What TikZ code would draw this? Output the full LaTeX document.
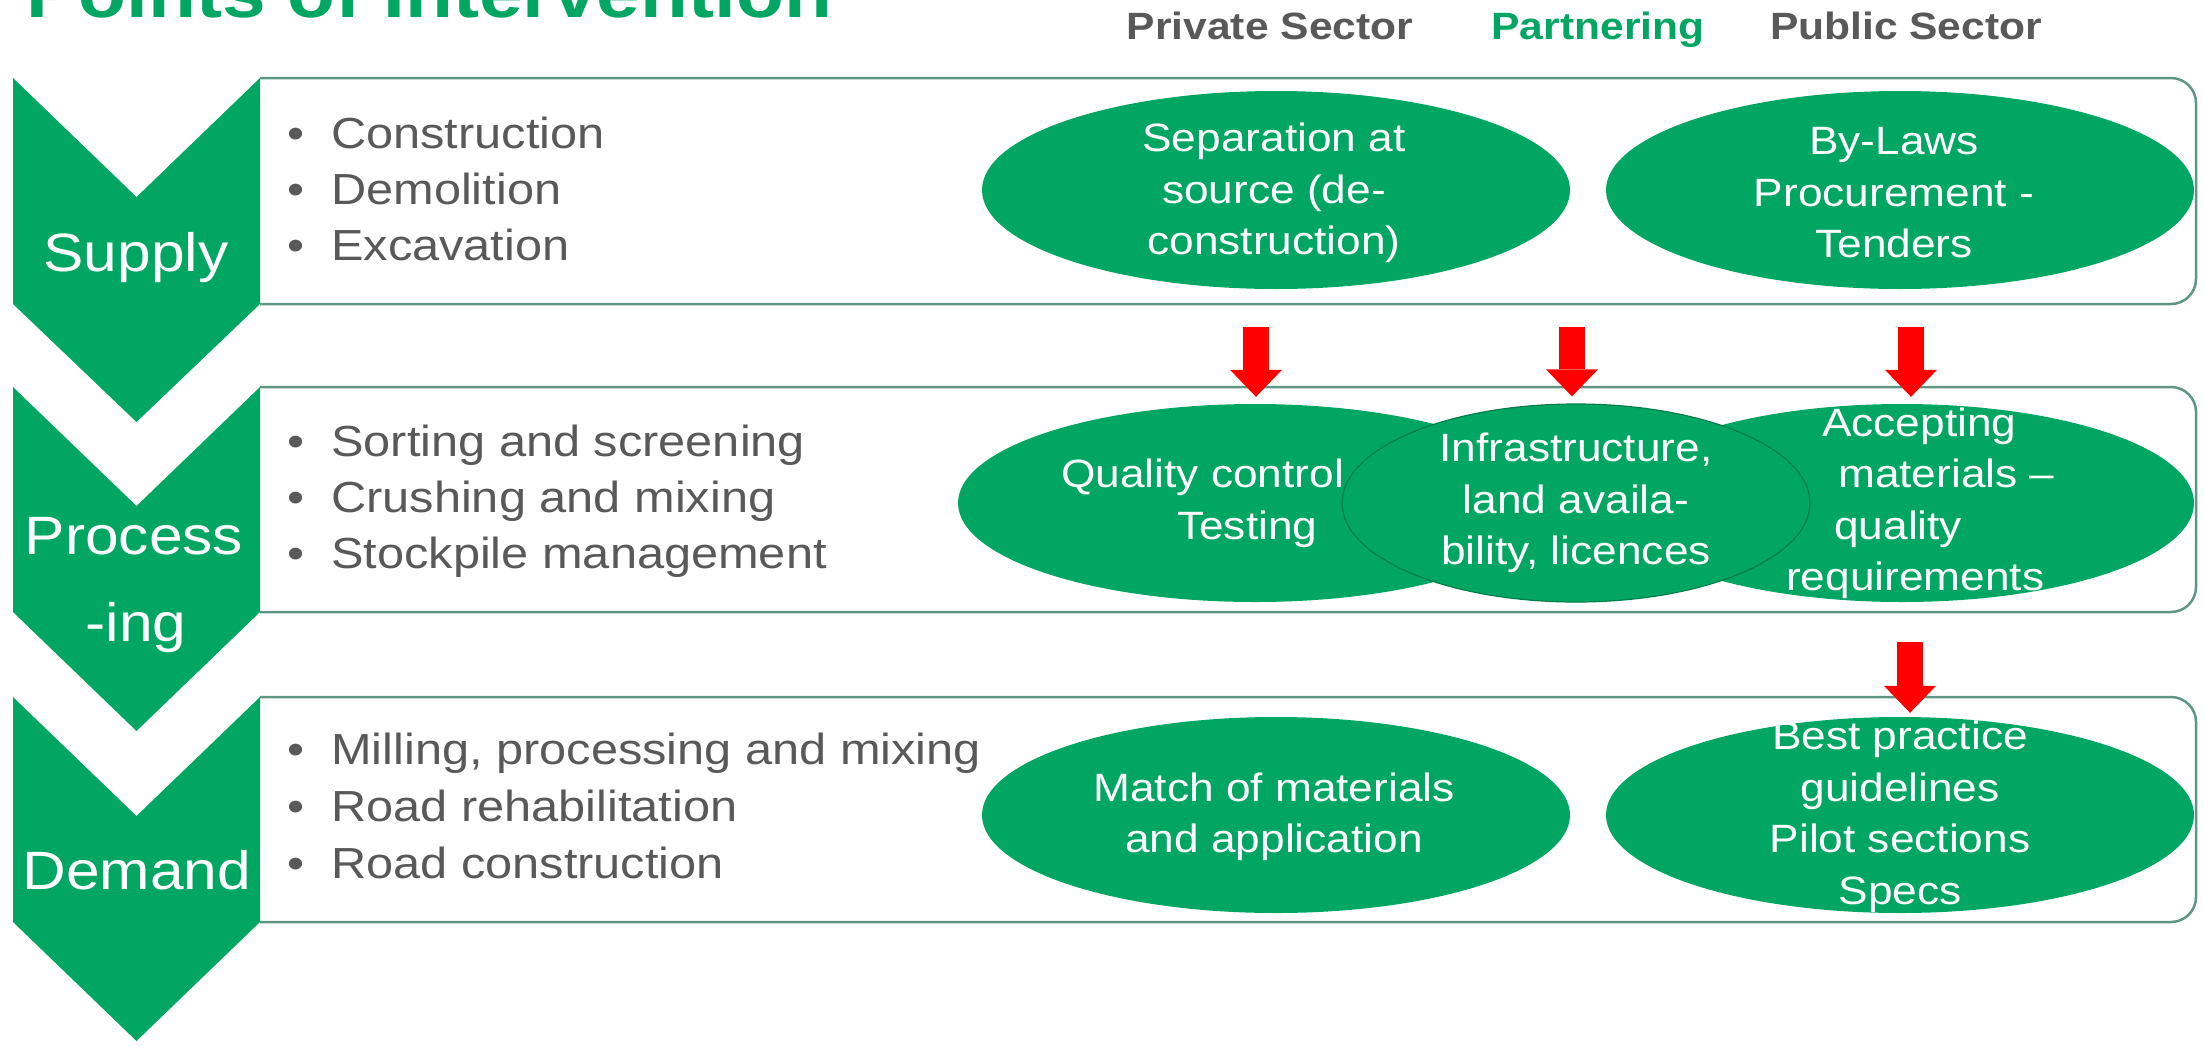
\documentclass[tikz,border=0pt]{standalone}
\usepackage{fontspec}
\setmainfont{Liberation Sans}[FakeStretch=1.12]
\usetikzlibrary{arrows.meta,shapes.geometric}
\definecolor{leaf}{RGB}{0,166,98}
\definecolor{ink}{RGB}{89,89,89}
\definecolor{rim}{RGB}{95,150,130}
\definecolor{arrowred}{RGB}{255,0,0}
\tikzset{
  band/.style={draw=rim, line width=2.5pt, rounded corners=25pt},
  chev/.style={fill=leaf},
  oval/.style={ellipse, fill=leaf, inner sep=0pt},
  ovaltext/.style={text=white, inner sep=0pt, font=\fontsize{39.5}{51.5}\selectfont},
  item/.style={anchor=base west, inner sep=0pt, text=ink, font=\fontsize{43.5}{56}\selectfont},
  stage/.style={anchor=base, inner sep=0pt, text=white, font=\fontsize{54}{65}\selectfont},
  colhead/.style={anchor=base, inner sep=0pt, font=\bfseries\fontsize{38}{45}\selectfont},
  push/.style={draw=arrowred, line width=26pt, -{Triangle[width=52pt,length=27pt,line width=0pt]}}
}
\begin{document}
\begin{tikzpicture}[x=1pt,y=-1pt]
\useasboundingbox (0,0) rectangle (2204,1045);
\clip (0,0) rectangle (2204,1045);

% title and column headings
\node[anchor=base west, inner sep=0pt, text=leaf, font=\bfseries\fontsize{70}{80}\selectfont] (title) at (26,17) {Points of Intervention};
\node[colhead, text=ink]  (hpriv) at (1270,39) {Private Sector};
\node[colhead, text=leaf] (hpart) at (1598,39) {Partnering};
\node[colhead, text=ink]  (hpub)  at (1906,39) {Public Sector};

% row frames
\draw[band] (260,78)  -- (2196,78)  -- (2196,304) -- (260,304);
\draw[band] (260,387) -- (2196,387) -- (2196,612) -- (260,612);
\draw[band] (260,697) -- (2196,697) -- (2196,922) -- (260,922);

% chevrons
\fill[chev] (13,78)  -- (136.5,197) -- (260,78)  -- (260,304) -- (136.5,422)  -- (13,304) -- cycle;
\fill[chev] (13,387) -- (136.5,506) -- (260,387) -- (260,612) -- (136.5,731)  -- (13,612) -- cycle;
\fill[chev] (13,697) -- (136.5,816) -- (260,697) -- (260,922) -- (136.5,1041) -- (13,922) -- cycle;

\node[stage] (supply) at (136,271) {Supply};
\node[stage] (procA)  at (134,554) {Process};
\node[stage] (procB)  at (136,641) {-ing};
\node[stage] (demand) at (137,889) {Demand};

% bullet lists
\foreach \t [count=\i] in {Construction,Demolition,Excavation}
  \node[item] (sup\i) at (287,{92+56*\i}) {\makebox[44pt][l]{•}\t};
\foreach \t [count=\i] in {Sorting and screening,Crushing and mixing,Stockpile management}
  \node[item] (pro\i) at (287,{400+56*\i}) {\makebox[44pt][l]{•}\t};
\foreach \t [count=\i] in {{Milling, processing and mixing},Road rehabilitation,Road construction}
  \node[item] (dem\i) at (287,{707+57*\i}) {\makebox[44pt][l]{•}\t};

% intervention ovals
\node[oval, minimum width=588pt, minimum height=198pt] (sep) at (1276,190) {};
\node[oval, minimum width=588pt, minimum height=198pt] (law) at (1900,190) {};
\node[oval, minimum width=594pt, minimum height=198pt] (qc)  at (1255,503) {};
\node[oval, minimum width=584pt, minimum height=198pt] (acc) at (1902,503) {};
\node[oval, draw=leaf!75!black, line width=1.2pt, minimum width=468pt, minimum height=198pt] (inf) at (1576,503) {};
\node[oval, minimum width=588pt, minimum height=196pt] (mat) at (1276,815) {};
\node[oval, minimum width=588pt, minimum height=196pt] (bp)  at (1900,815) {};

\node[ovaltext, align=center] (sepT) at (1274,193) {Separation at\\source (de-\\construction)};
\node[ovaltext, align=center] (lawT) at (1894,193) {By-Laws\\Procurement -\\Tenders};
\node[ovaltext, align=left, anchor=west] (qcT) at (1061,503.5) {Quality control\\\hspace*{116pt}Testing};
\node[ovaltext, align=center] (infT) at (1576,503) {Infrastructure,\\land availa-\\bility, licences};
\node[ovaltext, align=left, anchor=west] (accT) at (1786,503.5) {\hspace*{36pt}Accepting\\\hspace*{52pt}materials –\\\hspace*{48pt}quality\\requirements};
\node[ovaltext, align=center] (matT) at (1274,817) {Match of materials\\and application};
\node[ovaltext, align=center] (bpT) at (1900,817) {Best practice\\guidelines\\Pilot sections\\Specs};

% hand-over arrows between stages
\coordinate (t1) at (1256,327);
\coordinate (t2) at (1572,327);
\coordinate (t3) at (1911,327);
\coordinate (t4) at (1910,642);
\draw[push, shorten >=7pt] (t1) -- (t1 |- qc.north);
\draw[push, shorten >=7pt] (t2) -- (t2 |- inf.north);
\draw[push, shorten >=7pt] (t3) -- (t3 |- acc.north);
\draw[push, shorten >=4pt] (t4) -- (t4 |- bp.north);
\end{tikzpicture}
\end{document}
